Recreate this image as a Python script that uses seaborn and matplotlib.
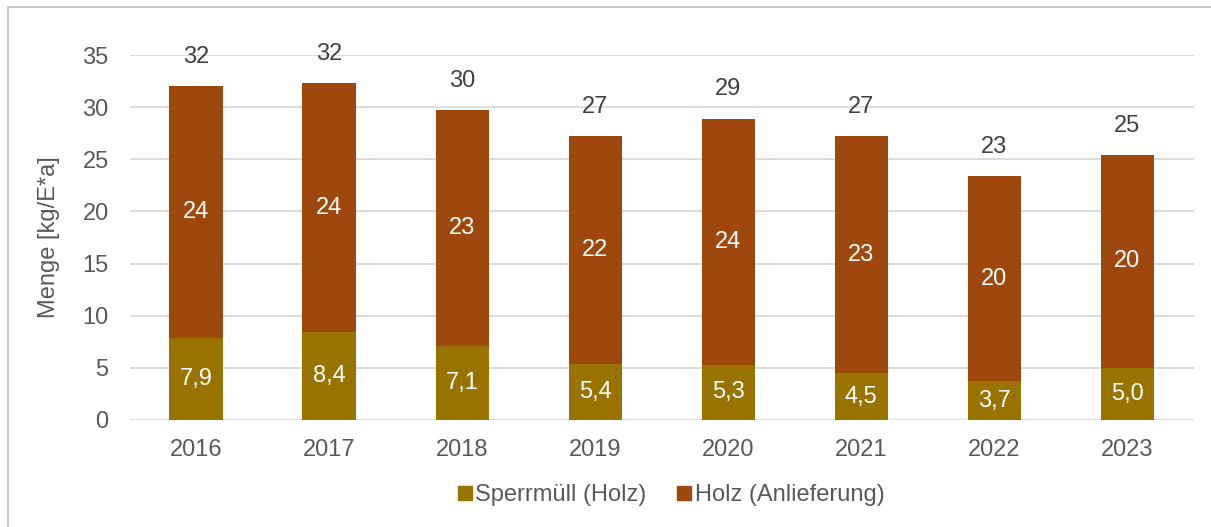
import pandas as pd
import seaborn as sns
import matplotlib.pyplot as plt
from matplotlib.lines import Line2D

# values (kg per inhabitant and year)
years = ["2016", "2017", "2018", "2019", "2020", "2021", "2022", "2023"]
sperrmuell = [7.9, 8.4, 7.1, 5.4, 5.3, 4.5, 3.7, 5.0]
anlieferung = [24.1, 23.9, 22.6, 21.8, 23.6, 22.7, 19.7, 20.4]

c_sperr = "#997300"
c_holz = "#9E480E"
grey = "#595959"
fs = 17

df = pd.DataFrame({"Jahr": years, "Sperrmüll (Holz)": sperrmuell,
                   "Holz (Anlieferung)": anlieferung})
df["Gesamt"] = df["Sperrmüll (Holz)"] + df["Holz (Anlieferung)"]

sns.set_theme(style="white")
plt.rcParams["font.family"] = ["Liberation Sans", "DejaVu Sans"]

fig = plt.figure(figsize=(12.11, 5.27), dpi=100)
ax = fig.add_axes([129.5 / 1211, 1 - 420 / 527, (1194 - 129.5) / 1211, 365 / 527])

# stacked bars: total first, lower segment drawn on top
sns.barplot(data=df, x="Jahr", y="Gesamt", color=c_holz, saturation=1,
            width=0.4, ax=ax, zorder=2, edgecolor="none")
sns.barplot(data=df, x="Jahr", y="Sperrmüll (Holz)", color=c_sperr, saturation=1,
            width=0.4, ax=ax, zorder=3, edgecolor="none")

ax.set_ylim(0, 35)
ax.set_xlim(-0.5, 7.5)
ax.set_yticks(range(0, 36, 5))
ax.yaxis.grid(True, color="#D9D9D9", linewidth=1.3, zorder=0)
ax.set_axisbelow(True)
for s in ax.spines.values():
    s.set_visible(False)
ax.tick_params(axis="both", length=0, labelsize=fs, labelcolor=grey)
ax.tick_params(axis="y", pad=15)
ax.tick_params(axis="x", pad=13.5)
ax.set_xlabel("")
ax.set_ylabel("Menge [kg/E*a]", fontsize=fs, color=grey, labelpad=16)

for i, row in df.iterrows():
    ax.text(i, row["Sperrmüll (Holz)"] / 2, f"{row['Sperrmüll (Holz)']:.1f}".replace(".", ","),
            ha="center", va="center", color="white", fontsize=fs, zorder=5)
    ax.text(i, row["Sperrmüll (Holz)"] + row["Holz (Anlieferung)"] / 2,
            f"{row['Holz (Anlieferung)']:.0f}", ha="center", va="center",
            color="white", fontsize=fs, zorder=5)
    ax.annotate(f"{row['Gesamt']:.0f}", (i, row["Gesamt"]), xytext=(0, 21),
                textcoords="offset points", ha="center", va="center",
                color="#404040", fontsize=fs, annotation_clip=False)

handles = [Line2D([], [], marker="s", linestyle="none", markersize=10,
                  markerfacecolor=c, markeredgecolor=c) for c in (c_sperr, c_holz)]
fig.legend(handles, ["Sperrmüll (Holz)", "Holz (Anlieferung)"], loc="center",
           bbox_to_anchor=(671 / 1211, 1 - 495 / 527), ncol=2, frameon=False,
           fontsize=fs, labelcolor=grey, handlelength=0.6, handletextpad=0.15,
           columnspacing=1.3)

# chart frame (only top and left edges are visible)
fig.add_artist(Line2D([8 / 1211, 8 / 1211], [0, 1 - 7 / 527], color="#BFBFBF", lw=1.2))
fig.add_artist(Line2D([8 / 1211, 1], [1 - 7 / 527, 1 - 7 / 527], color="#BFBFBF", lw=1.2))

fig.savefig("out.png", dpi=100)
